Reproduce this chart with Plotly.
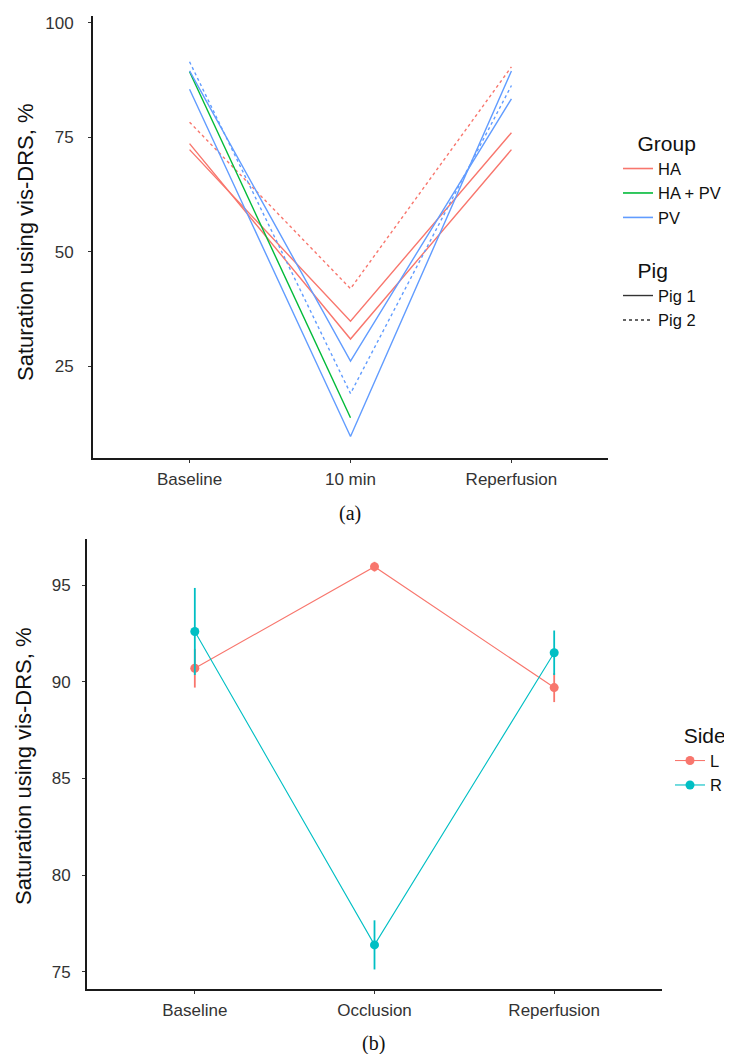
import plotly.graph_objects as go

# ---------------- Panel (a) data ----------------
time_a = ["Baseline", "10 min", "Reperfusion"]
ha_pig1_a = [73.6, 30.9, 72.3]
ha_pig1_b = [72.3, 34.8, 76.0]
ha_pig2 = [78.3, 41.9, 90.4]
hapv_pig1 = [89.3, 13.7, None]
pv_pig1_a = [85.5, 9.6, 89.5]
pv_pig1_b = [89.5, 26.1, 83.4]
pv_pig2 = [91.5, 19.0, 86.3]
yticks_a = [25, 50, 75, 100]

# ---------------- Panel (b) data ----------------
time_b = ["Baseline", "Occlusion", "Reperfusion"]
side_L = [90.7, 95.95, 89.7]
side_L_err = [1.0, 0.25, 0.75]
side_R = [92.6, 76.4, 91.5]
side_R_err = [2.25, 1.27, 1.15]
yticks_b = [75, 80, 85, 90, 95]

C_HA = "#F8766D"
C_HAPV = "#00BA38"
C_PV = "#619CFF"
C_L = "#F8766D"
C_R = "#00BFC4"

# page body has an 8px margin
OFF = 8
W, H = 724, 1046
def px_x(p):
    return (p - OFF) / W
def px_y(p):
    return 1 - (p - OFF) / H

fig = go.Figure()

series_a = [
    (ha_pig1_a, C_HA, "solid"),
    (ha_pig1_b, C_HA, "solid"),
    (ha_pig2, C_HA, "dot"),
    (hapv_pig1, C_HAPV, "solid"),
    (pv_pig1_a, C_PV, "solid"),
    (pv_pig1_b, C_PV, "solid"),
    (pv_pig2, C_PV, "dot"),
]
for vals, col, dash in series_a:
    fig.add_trace(go.Scatter(
        x=time_a, y=vals, mode="lines", showlegend=False,
        line=dict(color=col, width=1.4, dash=dash),
        xaxis="x", yaxis="y", hoverinfo="skip"))

# legend entries (Group)
for name, col in [("HA", C_HA), ("HA + PV", C_HAPV), ("PV", C_PV)]:
    fig.add_trace(go.Scatter(
        x=[None], y=[None], mode="lines", name=name,
        line=dict(color=col, width=1.6), legend="legend",
        xaxis="x", yaxis="y"))
# legend entries (Pig)
for name, dash in [("Pig 1", "solid"), ("Pig 2", "dot")]:
    fig.add_trace(go.Scatter(
        x=[None], y=[None], mode="lines", name=name,
        line=dict(color="#333333", width=1.4, dash=dash), legend="legend2",
        xaxis="x", yaxis="y"))

# Panel (b)
for name, vals, err, col in [("L", side_L, side_L_err, C_L), ("R", side_R, side_R_err, C_R)]:
    fig.add_trace(go.Scatter(
        x=time_b, y=vals, mode="lines+markers", name=name,
        line=dict(color=col, width=1.1),
        marker=dict(color=col, size=9),
        error_y=dict(type="data", array=err, visible=True, color=col,
                     thickness=1.8, width=0),
        legend="legend3", xaxis="x2", yaxis="y2"))

axis_common = dict(
    showline=True, linecolor="#1a1a1a", linewidth=2,
    ticks="outside", ticklen=3, tickcolor="#333333", tickwidth=1,
    showgrid=False, zeroline=False,
    tickfont=dict(family="Liberation Sans, Arial", size=17, color="#333333"),
)

NB = "\u00a0"
TITLE_FONT = dict(size=21, color="#111111")
leg_common = dict(xanchor="left", yanchor="top", bgcolor="rgba(0,0,0,0)",
                  tracegroupgap=0, itemwidth=30,
                  font=dict(size=16.5, color="#111111"))

fig.update_layout(
    width=W, height=H,
    margin=dict(l=0, r=0, t=0, b=0, autoexpand=False),
    paper_bgcolor="white", plot_bgcolor="white",
    font=dict(family="Liberation Sans, Arial", color="#111111"),
    xaxis=dict(domain=[px_x(93), px_x(608)], anchor="y", type="category",
               range=[-0.6, 2.6], categoryorder="array", categoryarray=time_a,
               ticklabelstandoff=2, **axis_common),
    yaxis=dict(domain=[px_y(458), px_y(16)], anchor="x", range=[4.9, 101.5],
               tickvals=yticks_a, ticklabelstandoff=11, **axis_common),
    xaxis2=dict(domain=[px_x(87), px_x(662)], anchor="y2", type="category",
                range=[-0.6, 2.6], categoryorder="array", categoryarray=time_b,
                ticklabelstandoff=2, **axis_common),
    yaxis2=dict(domain=[px_y(989), px_y(539)], anchor="x2", range=[74.12, 97.38],
                tickvals=yticks_b, ticklabelstandoff=8, **axis_common),
    legend=dict(title=dict(text=NB * 3 + "Group", font=TITLE_FONT),
                x=px_x(618), y=px_y(124), **leg_common),
    legend2=dict(title=dict(text=NB * 3 + "Pig", font=TITLE_FONT),
                 x=px_x(618), y=px_y(251), **leg_common),
    legend3=dict(title=dict(text=NB * 2 + "Side", font=TITLE_FONT),
                 x=px_x(670), y=px_y(716), **leg_common),
    annotations=[
        dict(text="Saturation using vis-DRS, %", textangle=-90,
             x=px_x(25), y=px_y(242), xref="paper", yref="paper",
             xanchor="center", yanchor="middle",
             showarrow=False, font=dict(size=22, color="#111111")),
        dict(text="Saturation using vis-DRS, %", textangle=-90,
             x=px_x(23), y=px_y(766), xref="paper", yref="paper",
             xanchor="center", yanchor="middle",
             showarrow=False, font=dict(size=22, color="#111111")),
        dict(text="(a)", x=px_x(350), y=px_y(514), xref="paper", yref="paper",
             xanchor="center", yanchor="middle", showarrow=False,
             font=dict(family="Liberation Serif, Times New Roman", size=20, color="#111111")),
        dict(text="(b)", x=px_x(373), y=px_y(1043), xref="paper", yref="paper",
             xanchor="center", yanchor="middle", showarrow=False,
             font=dict(family="Liberation Serif, Times New Roman", size=20, color="#111111")),
    ],
)

fig.write_html("out.html")
